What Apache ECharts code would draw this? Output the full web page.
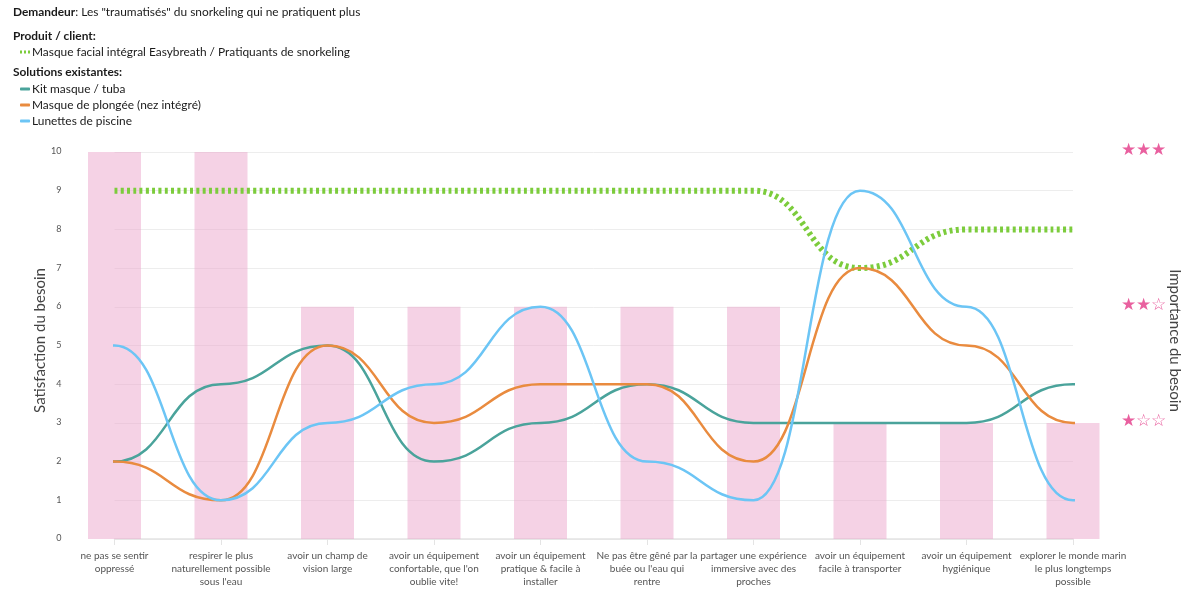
<!DOCTYPE html>
<html>
<head>
<meta charset="utf-8">
<style>
  html, body { margin: 0; padding: 0; background: #fff; }
  #chart { width: 1203px; height: 614px; }
</style>
<script src="https://cdn.jsdelivr.net/npm/echarts@6/dist/echarts.min.js"></script>
</head>
<body>
<div id="chart"></div>
<script>
const FONT = "Lato, 'Noto Sans', sans-serif";

const categories = [
    "ne pas se sentir\noppressé",
    "respirer le plus\nnaturellement possible\nsous l'eau",
    "avoir un champ de\nvision large",
    "avoir un équipement\nconfortable, que l'on\noublie vite!",
    "avoir un équipement\npratique & facile à\ninstaller",
    "Ne pas être gêné par la\nbuée ou l'eau qui\nrentre",
    "partager une expérience\nimmersive avec des\nproches",
    "avoir un équipement\nfacile à transporter",
    "avoir un équipement\nhygiénique",
    "explorer le monde marin\nle plus longtemps\npossible",
];
const importance = [10, 10, 6, 6, 6, 6, 6, 3, 3, 3];
const easybreath = [9, 9, 9, 9, 9, 9, 9, 7, 8, 8];
const kitMasque = [2, 4, 5, 2, 3, 4, 3, 3, 3, 4];
const masquePlongee = [2, 1, 5, 3, 4, 4, 2, 7, 5, 3];
const lunettes = [5, 1, 3, 4, 6, 2, 1, 9, 6, 1];
const starLevels = { 3: "★☆☆", 6: "★★☆", 10: "★★★" };

const EASYBREATH = "Masque facial intégral Easybreath / Pratiquants de snorkeling";
const KIT = "Kit masque / tuba";
const PLONGEE = "Masque de plongée (nez intégré)";
const LUNETTES = "Lunettes de piscine";
const DOTTED_ICON = "path://M0 0h2v3H0z M4 0h2v3H4z M8 0h2v3H8z";

const chart = echarts.init(document.getElementById("chart"));

function toPoints(values) {
    return values.map((v, i) => [i, v]);
}

// the line leaves both ends flat: same value once more outside the grid, clipped away
function withFlatEnds(values) {
    return [[-1, values[0]], ...toPoints(values), [values.length, values[values.length - 1]]];
}

function curve(name, data, color, lineStyle) {
    return {
        name: name,
        type: "line",
        data: data,
        smooth: 0.5,
        smoothMonotone: "x",
        symbol: "none",
        lineStyle: { color: color, width: 2.5, ...lineStyle },
        itemStyle: { color: color },
    };
}

const headerStyle = { fontFamily: FONT, fontSize: 11.9, fill: "#1a1a1a" };

chart.setOption({
    animation: false,
    textStyle: { fontFamily: FONT },
    grid: { left: 114.5, right: 130, top: 152, bottom: 75 },
    legend: [
        {
            data: [{ name: EASYBREATH, icon: DOTTED_ICON }],
            left: 15,
            top: 41,
            itemWidth: 10,
            itemHeight: 3,
            textStyle: { fontSize: 11.9, color: "#1a1a1a", padding: [0, 0, 0, -3] },
        },
        {
            data: [KIT, PLONGEE, LUNETTES].map((name) => ({ name: name, icon: "roundRect" })),
            orient: "vertical",
            left: 15,
            top: 77,
            itemWidth: 10,
            itemHeight: 3,
            itemGap: 2,
            textStyle: { fontSize: 11.9, color: "#1a1a1a", lineHeight: 14, padding: [0, 0, 0, -3] },
        },
    ],
    graphic: [
        {
            type: "text",
            left: 13,
            top: 6,
            style: {
                ...headerStyle,
                rich: {
                    b: { fontFamily: FONT, fontSize: 11.9, fontWeight: "bold", fill: "#1a1a1a" },
                    n: { fontFamily: FONT, fontSize: 11.9, fill: "#1a1a1a" },
                },
                text: '{b|Demandeur}{n|: Les "traumatisés" du snorkeling qui ne pratiquent plus}',
            },
        },
        { type: "text", left: 13, top: 30, style: { ...headerStyle, fontWeight: "bold", text: "Produit / client:" } },
        { type: "text", left: 13, top: 66, style: { ...headerStyle, fontWeight: "bold", text: "Solutions existantes:" } },
    ],
    xAxis: {
        type: "value",
        min: 0,
        max: categories.length - 1,
        interval: 1,
        splitLine: { show: false },
        axisLine: { lineStyle: { color: "#e4e4e4", width: 1.5 } },
        axisTick: { show: true, length: 6, lineStyle: { color: "#e4e4e4" } },
        axisLabel: {
            formatter: (value) => categories[value],
            hideOverlap: false,
            showMinLabel: true,
            showMaxLabel: true,
            fontSize: 10,
            lineHeight: 13,
            color: "#555",
            margin: 10,
        },
    },
    yAxis: [
        {
            type: "value",
            min: 0,
            max: 10,
            interval: 1,
            name: "Satisfaction du besoin",
            nameLocation: "middle",
            nameGap: 67,
            nameMoveOverlap: false,
            nameTextStyle: { fontSize: 15, color: "#444", padding: [0, 0, 0, 10] },
            axisLine: { show: false },
            axisTick: { show: false },
            axisLabel: { fontSize: 9, color: "#555", margin: 53, verticalAlign: "bottom", lineHeight: 1 },
            splitLine: { lineStyle: { color: "#ededed", width: 1 } },
        },
        {
            type: "value",
            position: "right",
            min: 0,
            max: 10,
            interval: 1,
            name: "Importance du besoin",
            nameLocation: "middle",
            nameRotate: -90,
            nameGap: 94,
            nameMoveOverlap: false,
            nameTextStyle: { fontSize: 15, color: "#444", padding: [0, 10, 0, 0] },
            axisLine: { show: false },
            axisTick: { show: false },
            splitLine: { show: false },
            axisLabel: {
                customValues: [3, 6, 10],
                formatter: (value) => starLevels[value] || "",
                fontSize: 16.5,
                color: "#e9609f",
                margin: 48,
                verticalAlign: "bottom",
                lineHeight: 5,
            },
        },
    ],
    series: [
        {
            name: "Importance",
            type: "bar",
            data: toPoints(importance),
            barWidth: 53,
            clip: false,
            itemStyle: { color: "rgba(235, 165, 203, 0.5)" },
        },
        curve(EASYBREATH, toPoints(easybreath), "#7ccc3c", { width: 6, type: [3, 3.3] }),
        curve(KIT, withFlatEnds(kitMasque), "#4aa39b"),
        curve(PLONGEE, withFlatEnds(masquePlongee), "#e98b3f"),
        curve(LUNETTES, withFlatEnds(lunettes), "#6cc5f5"),
    ],
});
</script>
</body>
</html>
